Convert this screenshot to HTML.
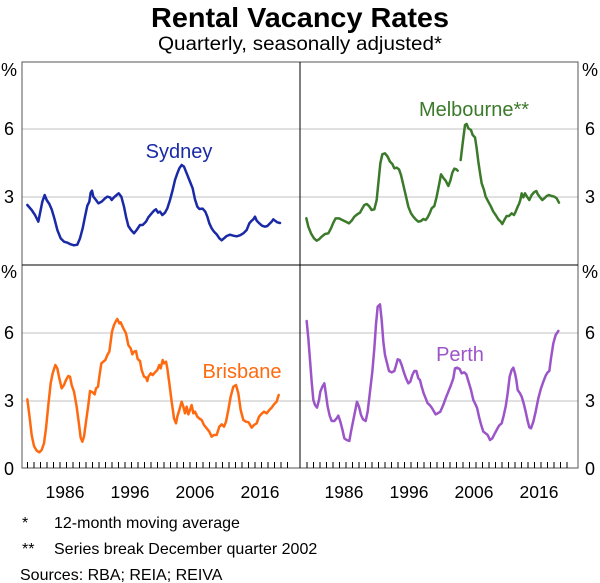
<!DOCTYPE html>
<html><head><meta charset="utf-8"><style>
body{margin:0;background:#fff;}
svg{display:block;font-family:"Liberation Sans",Arial,sans-serif;}
</style></head><body>
<svg width="600" height="583" viewBox="0 0 600 583" xmlns="http://www.w3.org/2000/svg">
<text x="300" y="27" text-anchor="middle" font-size="28" font-weight="bold" textLength="298" lengthAdjust="spacingAndGlyphs">Rental Vacancy Rates</text>
<text x="300" y="50" text-anchor="middle" font-size="19" textLength="284" lengthAdjust="spacingAndGlyphs">Quarterly, seasonally adjusted*</text>
<g stroke="#c0c0c0" stroke-width="1">
<line x1="22" y1="129" x2="578" y2="129"/><line x1="22" y1="197" x2="578" y2="197"/>
<line x1="22" y1="333" x2="578" y2="333"/><line x1="22" y1="401" x2="578" y2="401"/>
</g>
<g stroke="#000" stroke-width="1" fill="none">
<rect x="22" y="62" width="556" height="406" stroke="#555"/>
<line x1="300" y1="62" x2="300" y2="468"/>
<line x1="22" y1="265" x2="578" y2="265"/>
</g>
<g stroke="#000" stroke-width="1">
<path d="M27.5 468v-6M34 468v-6M40.5 468v-6M47 468v-6M53.5 468v-6M60 468v-6M66.5 468v-6M73 468v-6M79.5 468v-6M86 468v-6M92.5 468v-6M99 468v-6M105.5 468v-6M112 468v-6M118.5 468v-6M125 468v-6M131.5 468v-6M138 468v-6M144.5 468v-6M151 468v-6M157.5 468v-6M164 468v-6M170.5 468v-6M177 468v-6M183.5 468v-6M190 468v-6M196.5 468v-6M203 468v-6M209.5 468v-6M216 468v-6M222.5 468v-6M229 468v-6M235.5 468v-6M242 468v-6M248.5 468v-6M255 468v-6M261.5 468v-6M268 468v-6M274.5 468v-6M281 468v-6M287.5 468v-6"/>
<path transform="translate(279.5,0)" d="M27.5 468v-6M34 468v-6M40.5 468v-6M47 468v-6M53.5 468v-6M60 468v-6M66.5 468v-6M73 468v-6M79.5 468v-6M86 468v-6M92.5 468v-6M99 468v-6M105.5 468v-6M112 468v-6M118.5 468v-6M125 468v-6M131.5 468v-6M138 468v-6M144.5 468v-6M151 468v-6M157.5 468v-6M164 468v-6M170.5 468v-6M177 468v-6M183.5 468v-6M190 468v-6M196.5 468v-6M203 468v-6M209.5 468v-6M216 468v-6M222.5 468v-6M229 468v-6M235.5 468v-6M242 468v-6M248.5 468v-6M255 468v-6M261.5 468v-6M268 468v-6M274.5 468v-6M281 468v-6M287.5 468v-6"/>
</g>
<g font-size="18">
<text x="9" y="76" text-anchor="middle">%</text><text x="9" y="135" text-anchor="middle">6</text><text x="9" y="203" text-anchor="middle">3</text>
<text x="9" y="278" text-anchor="middle">%</text><text x="9" y="339" text-anchor="middle">6</text><text x="9" y="407" text-anchor="middle">3</text><text x="9" y="475" text-anchor="middle">0</text>
<text x="590" y="76" text-anchor="middle">%</text><text x="590" y="135" text-anchor="middle">6</text><text x="590" y="203" text-anchor="middle">3</text>
<text x="590" y="278" text-anchor="middle">%</text><text x="590" y="339" text-anchor="middle">6</text><text x="590" y="407" text-anchor="middle">3</text><text x="590" y="475" text-anchor="middle">0</text>
</g>
<g font-size="17.5">
<text x="65" y="498" text-anchor="middle">1986</text><text x="130" y="498" text-anchor="middle">1996</text><text x="195" y="498" text-anchor="middle">2006</text><text x="260" y="498" text-anchor="middle">2016</text>
<text x="344" y="498" text-anchor="middle">1986</text><text x="409" y="498" text-anchor="middle">1996</text><text x="474" y="498" text-anchor="middle">2006</text><text x="539" y="498" text-anchor="middle">2016</text>
</g>
<g fill="none" stroke-width="7.5" stroke-linejoin="round" stroke-linecap="round">
<g transform="translate(20,60) scale(0.33333)" stroke="#1a2aa6">
<polyline points="22,435 35,450 45,465 55,485 62,450 67,425 74,405 80,420 88,432 95,448 103,475 112,510 122,535 132,545 142,548 152,553 162,556 172,554 180,535 188,505 195,470 202,437 208,425 212,398 216,392 220,410 228,420 235,430 245,425 255,415 262,410 270,412 275,420 282,412 290,405 296,400 304,410 312,440 318,470 325,498 333,510 342,520 350,510 360,495 368,495 378,485 385,472 395,460 402,452 408,448 414,458 420,455 427,465 435,458 442,445 450,420 458,390 465,360 472,340 478,325 485,315 492,320 500,340 508,360 518,385 525,418 532,440 538,447 548,446 556,455 562,470 568,490 575,505 582,515 590,523 598,535 605,541 612,535 620,528 630,524 640,527 650,529 660,526 670,520 680,510 688,490 695,482 700,478 705,470 710,482 718,490 726,497 735,500 742,498 748,492 755,485 760,478 765,482 772,487 780,489"/>
</g>
<g transform="translate(295,60) scale(0.33333)" stroke="#3b7a2a">
<polyline points="34,475 40,500 48,520 57,535 65,542 72,538 80,530 90,522 100,520 108,505 115,488 122,475 132,475 142,480 152,485 162,490 170,482 178,470 188,462 195,458 202,445 208,435 215,432 222,438 230,450 238,448 245,420 250,370 256,310 262,283 270,280 278,290 285,305 292,312 298,325 305,323 312,328 318,345 325,375 332,405 340,440 348,460 355,470 362,478 370,485 378,483 385,477 392,480 398,472 404,460 410,445 418,438 425,410 432,375 438,343 446,355 452,362 460,378 466,362 472,338 478,326 484,328 488,332"/>
<polyline points="497,300 503,250 510,195 515,192 520,205 528,210 533,225 540,232 545,265 550,305 556,345 560,370 567,390 572,410 580,425 588,440 595,455 602,465 610,478 617,485 622,492 628,480 635,468 642,468 650,460 657,465 662,455 668,440 672,432 676,420 680,400 685,412 690,400 696,410 703,420 710,405 718,396 724,393 728,402 735,412 742,420 748,415 755,408 762,405 770,408 778,410 785,415 792,428"/>
</g>
<g transform="translate(20,265) scale(0.33333)" stroke="#ff6a10">
<polyline points="22,403 28,450 35,510 42,543 50,557 58,562 65,555 72,535 78,490 85,420 92,355 98,325 106,300 112,310 118,340 125,370 132,360 138,345 145,333 150,335 155,360 162,380 170,425 177,478 182,518 187,530 192,515 198,470 205,420 210,378 218,382 224,388 228,370 234,365 238,335 244,295 250,290 256,285 262,270 268,260 272,230 276,200 282,180 288,168 292,162 298,175 302,172 310,190 318,205 325,240 332,250 337,268 342,260 348,258 353,282 360,288 365,315 372,335 378,338 382,348 385,335 392,325 398,330 405,322 412,315 418,300 422,310 428,285 432,295 438,290 442,310 448,355 455,410 462,460 468,475 472,455 478,435 485,410 490,425 495,445 500,425 505,448 510,435 515,420 520,445 525,440 532,455 540,462 545,465 552,480 560,490 568,500 575,515 582,510 590,510 598,485 605,478 612,485 618,470 625,435 632,395 640,365 648,360 655,385 662,435 670,465 678,470 686,472 695,488 702,480 710,475 717,455 725,446 732,440 740,445 748,435 755,428 762,418 770,410 776,390"/>
</g>
<g transform="translate(295,265) scale(0.33333)" stroke="#9b55c9">
<polyline points="35,168 40,220 45,285 50,350 55,405 60,420 66,428 72,405 76,380 82,365 88,355 92,382 98,425 104,452 110,468 118,468 125,460 130,452 136,470 142,493 148,520 155,525 163,528 168,500 175,465 182,430 186,410 192,425 198,450 204,463 212,468 218,440 225,380 232,320 238,250 243,178 248,125 255,118 260,165 265,230 270,270 275,290 282,318 290,322 298,318 302,305 308,283 314,285 320,300 326,320 333,340 340,355 346,350 352,330 358,318 364,318 370,340 375,345 380,365 386,385 392,400 398,415 404,420 410,428 416,438 422,448 428,445 436,440 444,422 452,400 460,380 468,360 475,340 480,310 486,308 494,312 500,325 508,322 514,328 520,348 528,375 535,405 540,415 546,428 552,455 558,478 565,500 572,505 578,510 585,525 592,520 598,508 605,495 612,482 620,475 626,452 632,425 638,385 644,335 650,315 655,308 660,325 664,345 668,375 675,385 680,395 686,415 692,440 698,468 703,487 708,490 715,470 722,440 730,400 738,370 745,350 752,332 758,322 763,318 768,280 775,235 782,210 790,198"/>
</g>
</g>
<g font-size="20">
<text x="179" y="158" text-anchor="middle" fill="#1a2aa6">Sydney</text>
<text x="474" y="116" text-anchor="middle" fill="#3b7a2a">Melbourne**</text>
<text x="242" y="378" text-anchor="middle" fill="#ff6a10">Brisbane</text>
<text x="460" y="361" text-anchor="middle" fill="#9b55c9">Perth</text>
</g>
<g font-size="16">
<text x="22" y="528">*</text><text x="54" y="528">12-month moving average</text>
<text x="22" y="554">**</text><text x="54" y="554">Series break December quarter 2002</text>
<text x="20" y="580">Sources:  RBA; REIA; REIVA</text>
</g>
</svg>
</body></html>
